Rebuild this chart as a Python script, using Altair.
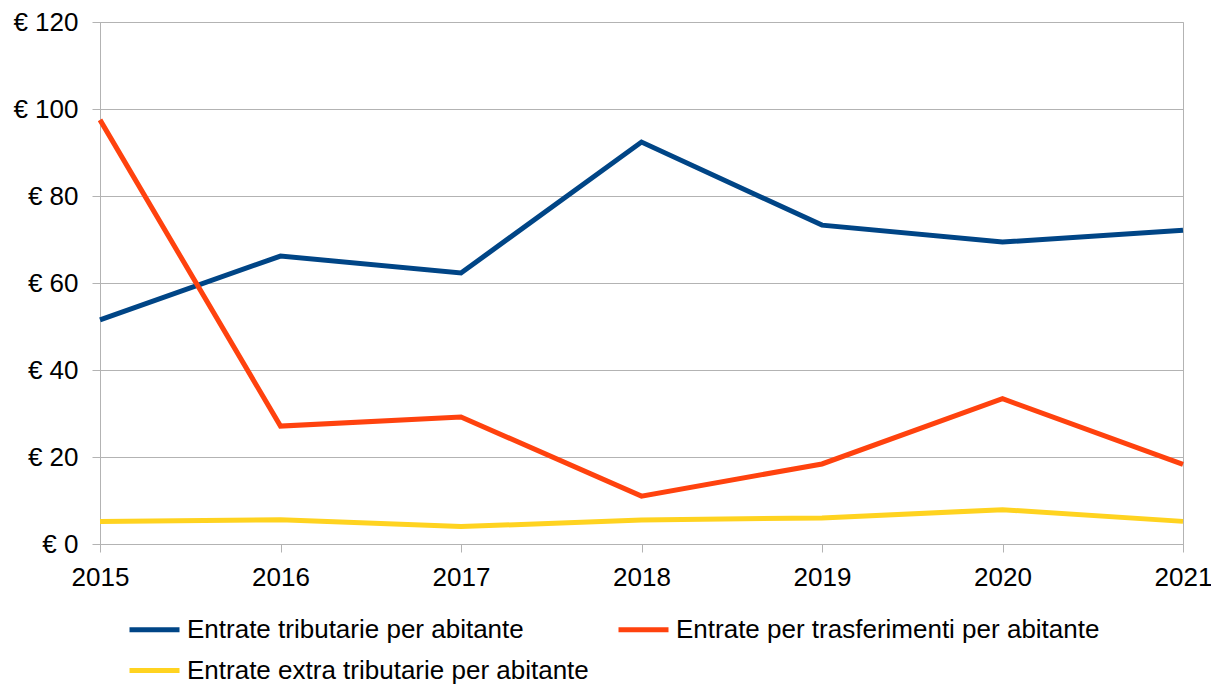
import altair as alt
import pandas as pd

years = [2015, 2016, 2017, 2018, 2019, 2020, 2021]
series_names = [
    "Entrate tributarie per abitante",
    "Entrate per trasferimenti per abitante",
    "Entrate extra tributarie per abitante",
]
tributarie = [51.5, 66.2, 62.3, 92.4, 73.3, 69.4, 72.1]
trasferimenti = [97.5, 27.1, 29.2, 11.0, 18.4, 33.4, 18.3]
extra = [5.2, 5.6, 4.0, 5.5, 6.0, 7.9, 5.2]
colors = ["#004586", "#ff420e", "#ffd320"]
y_ticks = [0, 20, 40, 60, 80, 100, 120]

rows = []
for name, vals in zip(series_names, [tributarie, trasferimenti, extra]):
    for yr, v in zip(years, vals):
        rows.append({"serie": name, "anno": str(yr), "valore": v})
df = pd.DataFrame(rows)

FONT = "Liberation Sans"
GRID = "#b3b3b3"

chart = alt.Chart(df).mark_line(strokeWidth=5, strokeJoin="miter", strokeCap="butt").encode(
    x=alt.X("anno:O", title=None,
            scale=alt.Scale(type="point", padding=0),
            axis=alt.Axis(labelAngle=0, labelFontSize=26, labelFont=FONT, labelColor="#000000",
                          tickSize=8, tickColor=GRID, domainColor=GRID, labelPadding=12,
                          grid=False)),
    y=alt.Y("valore:Q", title=None,
            scale=alt.Scale(domain=[0, 120], nice=False),
            axis=alt.Axis(values=y_ticks, labelExpr="'€ ' + datum.value",
                          labelFontSize=26, labelFont=FONT, labelColor="#000000",
                          tickSize=8, tickColor=GRID, domainColor=GRID, gridColor=GRID,
                          labelPadding=14)),
    color=alt.Color("serie:N", title=None,
                    scale=alt.Scale(domain=series_names, range=colors),
                    legend=alt.Legend(orient="none", legendX=27, legendY=580, columns=2,
                                      direction="horizontal",
                                      symbolType="stroke", symbolSize=2500, symbolStrokeWidth=5,
                                      labelFontSize=26, labelFont=FONT, labelColor="#000000",
                                      labelOffset=5, columnPadding=19, rowPadding=0,
                                      padding=0, labelLimit=0)),
    order=alt.Order("anno:O"),
).properties(
    width=1083, height=522,
    autosize=alt.AutoSizeParams(type="none"),
    padding={"left": 92, "top": 14, "right": 28, "bottom": 141},
).configure_view(stroke=GRID, strokeWidth=1).configure_axis(gridWidth=1, domainWidth=1, tickWidth=1)

chart.save("out.html", embed_options={"renderer": "svg", "actions": False})
